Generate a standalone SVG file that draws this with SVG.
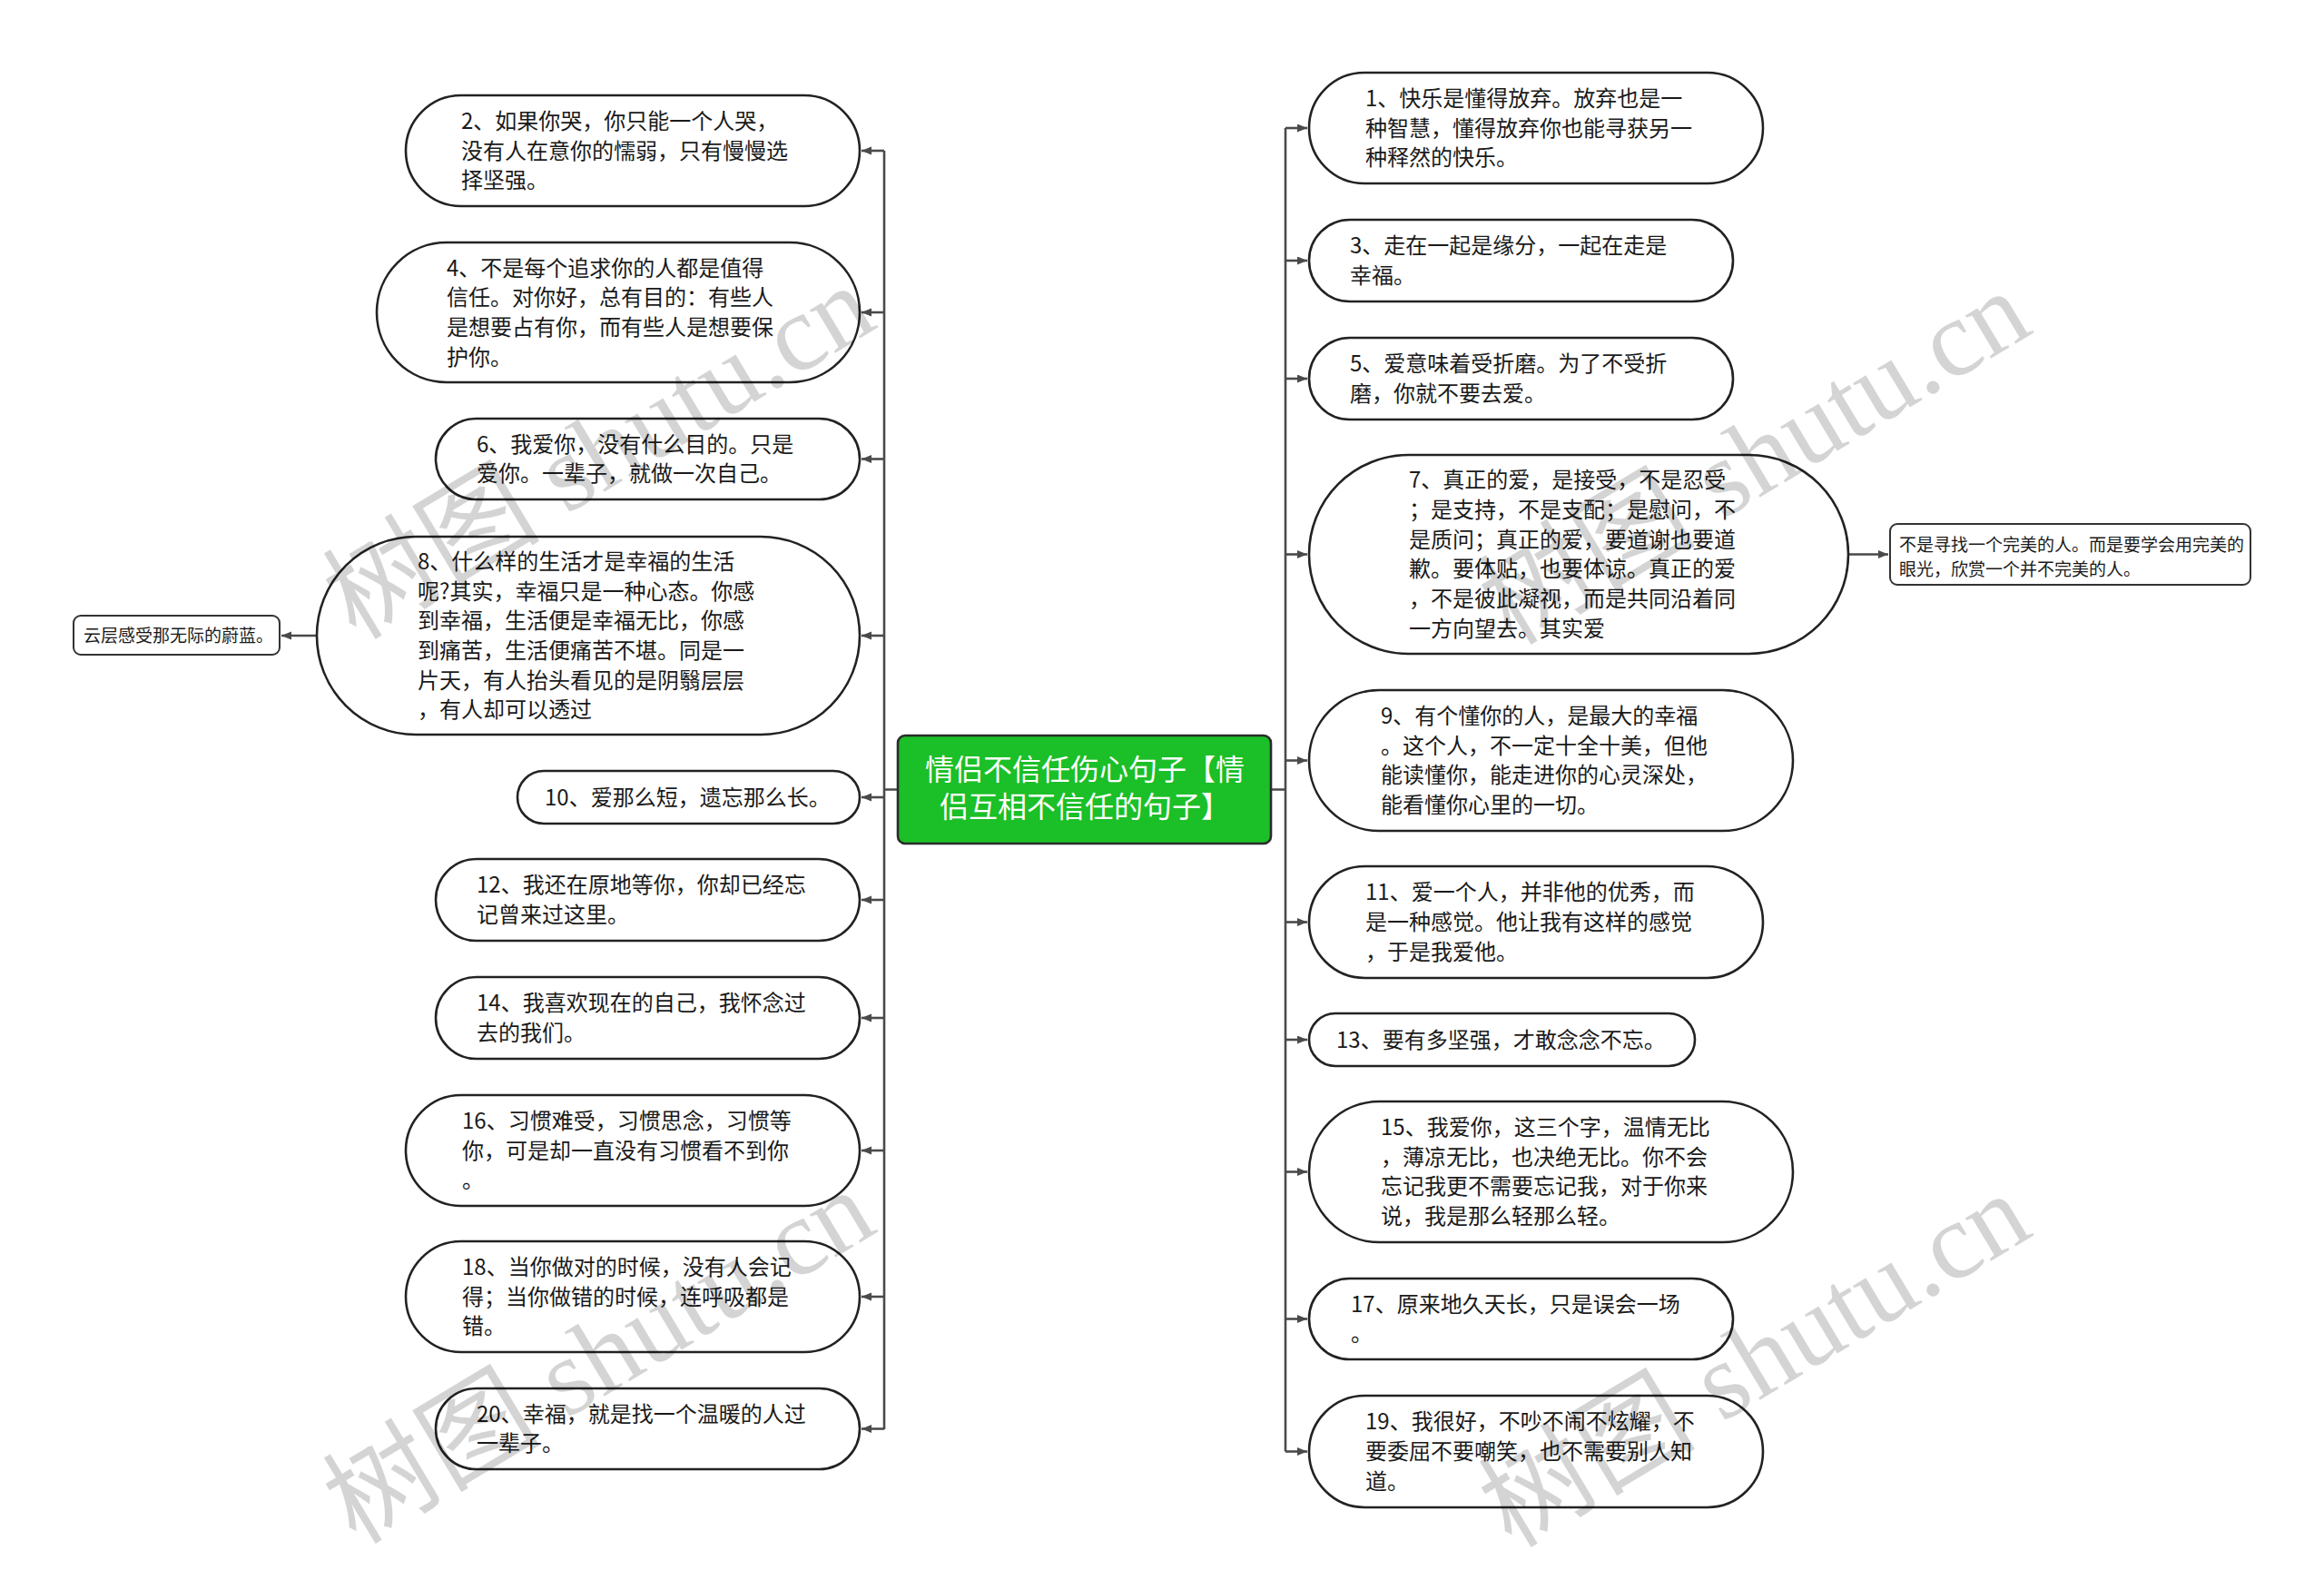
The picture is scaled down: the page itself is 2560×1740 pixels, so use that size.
<svg xmlns="http://www.w3.org/2000/svg" width="2560" height="1740" viewBox="0 0 2560 1740">
<style>
.n{fill:#fff;stroke:#222;stroke-width:2.6}
.c{fill:#fff;stroke:#333;stroke-width:2}
.t{font-family:"Noto Sans CJK SC","Noto Sans",sans-serif;font-size:24px;fill:#1a1a1a}
.ts{font-family:"Noto Sans CJK SC","Noto Sans",sans-serif;font-size:19px;fill:#1a1a1a}
.root{fill:#1bbf27;stroke:#2b2b2b;stroke-width:2.6}
.rt{font-family:"Noto Sans CJK SC","Noto Sans",sans-serif;font-size:32px;fill:#fff;text-anchor:middle}
.l{fill:none;stroke:#4a4a4a;stroke-width:2.6}
.a{fill:none;stroke:#4a4a4a;stroke-width:2.6;marker-end:url(#ah)}
.wm{font-family:"Liberation Serif","Noto Sans CJK SC",serif;font-size:120px;fill:#000;fill-opacity:0.17}
</style>
<defs>
<marker id="ah" markerUnits="userSpaceOnUse" markerWidth="12" markerHeight="10" refX="11" refY="4.5" orient="auto">
<path d="M0,0 L11,4.5 L0,9 Z" fill="#4a4a4a"/>
</marker>
</defs>
<rect width="2560" height="1740" fill="#fff"/>

<g id="connectors">
<path class="l" d="M989,869.5 H974 M974,166 V1574"/>
<path class="a" d="M974,166 H949"/>
<path class="a" d="M974,344 H949"/>
<path class="a" d="M974,505.5 H949"/>
<path class="a" d="M974,700 H949"/>
<path class="a" d="M974,878 H949"/>
<path class="a" d="M974,991 H949"/>
<path class="a" d="M974,1121 H949"/>
<path class="a" d="M974,1267 H949"/>
<path class="a" d="M974,1428 H949"/>
<path class="a" d="M974,1573.5 H949"/>
<path class="a" d="M349,700 H310"/>
<path class="l" d="M1400,869.5 H1416 M1416,141 V1598.5"/>
<path class="a" d="M1416,141 H1440"/>
<path class="a" d="M1416,287 H1440"/>
<path class="a" d="M1416,417 H1440"/>
<path class="a" d="M1416,610.5 H1440"/>
<path class="a" d="M1416,837.5 H1440"/>
<path class="a" d="M1416,1015.5 H1440"/>
<path class="a" d="M1416,1145 H1440"/>
<path class="a" d="M1416,1290.5 H1440"/>
<path class="a" d="M1416,1452.5 H1440"/>
<path class="a" d="M1416,1598.5 H1440"/>
<path class="a" d="M2036,610.5 H2080"/>
</g>

<g id="root">
<rect class="root" x="989" y="810" width="411" height="119" rx="8"/>
<text class="rt"><tspan x="1195" y="858.5">情侣不信任伤心句子【情</tspan><tspan x="1195" y="899.5">侣互相不信任的句子】</tspan></text>
</g>

<g id="n2">
<rect class="n" x="447" y="105" width="500" height="122" rx="61"/>
<text class="t"><tspan x="508" y="141.8">2、如果你哭，你只能一个人哭，</tspan><tspan x="508" y="174.5">没有人在意你的懦弱，只有慢慢选</tspan><tspan x="508" y="207.2">择坚强。</tspan></text>
</g>
<g id="n4">
<rect class="n" x="415" y="267" width="532" height="154" rx="77"/>
<text class="t"><tspan x="492" y="303.5">4、不是每个追求你的人都是值得</tspan><tspan x="492" y="336.2">信任。对你好，总有目的：有些人</tspan><tspan x="492" y="368.8">是想要占有你，而有些人是想要保</tspan><tspan x="492" y="401.5">护你。</tspan></text>
</g>
<g id="n6">
<rect class="n" x="480" y="461" width="467" height="89" rx="44.5"/>
<text class="t"><tspan x="525" y="497.7">6、我爱你，没有什么目的。只是</tspan><tspan x="525" y="530.4">爱你。一辈子，就做一次自己。</tspan></text>
</g>
<g id="n8">
<rect class="n" x="349" y="591" width="598" height="218" rx="109"/>
<text class="t"><tspan x="460" y="626.8">8、什么样的生活才是幸福的生活</tspan><tspan x="460" y="659.5">呢?其实，幸福只是一种心态。你感</tspan><tspan x="460" y="692.1">到幸福，生活便是幸福无比，你感</tspan><tspan x="460" y="724.9">到痛苦，生活便痛苦不堪。同是一</tspan><tspan x="460" y="757.5">片天，有人抬头看见的是阴翳层层</tspan><tspan x="460" y="790.3">，有人却可以透过</tspan></text>
</g>
<g id="n8c">
<rect class="c" x="81" y="678" width="227" height="43" rx="8"/>
<text class="ts" x="92" y="706.7">云层感受那无际的蔚蓝。</text>
</g>
<g id="n10">
<rect class="n" x="570" y="849" width="377" height="58" rx="29"/>
<text class="t" x="600" y="886.5">10、爱那么短，遗忘那么长。</text>
</g>
<g id="n12">
<rect class="n" x="480" y="946" width="467" height="90" rx="45"/>
<text class="t"><tspan x="525" y="983.2">12、我还在原地等你，你却已经忘</tspan><tspan x="525" y="1015.9">记曾来过这里。</tspan></text>
</g>
<g id="n14">
<rect class="n" x="480" y="1076" width="467" height="90" rx="45"/>
<text class="t"><tspan x="525" y="1113.2">14、我喜欢现在的自己，我怀念过</tspan><tspan x="525" y="1145.9">去的我们。</tspan></text>
</g>
<g id="n16">
<rect class="n" x="447" y="1206" width="500" height="122" rx="61"/>
<text class="t"><tspan x="509" y="1242.8">16、习惯难受，习惯思念，习惯等</tspan><tspan x="509" y="1275.5">你，可是却一直没有习惯看不到你</tspan><tspan x="509" y="1308.2">。</tspan></text>
</g>
<g id="n18">
<rect class="n" x="447" y="1367" width="500" height="122" rx="61"/>
<text class="t"><tspan x="509" y="1403.8">18、当你做对的时候，没有人会记</tspan><tspan x="509" y="1436.5">得；当你做错的时候，连呼吸都是</tspan><tspan x="509" y="1469.2">错。</tspan></text>
</g>
<g id="n20">
<rect class="n" x="480" y="1529" width="467" height="89" rx="44.5"/>
<text class="t"><tspan x="525" y="1565.7">20、幸福，就是找一个温暖的人过</tspan><tspan x="525" y="1598.4">一辈子。</tspan></text>
</g>

<g id="n1">
<rect class="n" x="1442" y="80" width="500" height="122" rx="61"/>
<text class="t"><tspan x="1504" y="116.8">1、快乐是懂得放弃。放弃也是一</tspan><tspan x="1504" y="149.5">种智慧，懂得放弃你也能寻获另一</tspan><tspan x="1504" y="182.2">种释然的快乐。</tspan></text>
</g>
<g id="n3">
<rect class="n" x="1442" y="242" width="467" height="90" rx="45"/>
<text class="t"><tspan x="1487" y="279.2">3、走在一起是缘分，一起在走是</tspan><tspan x="1487" y="311.9">幸福。</tspan></text>
</g>
<g id="n5">
<rect class="n" x="1442" y="372" width="467" height="90" rx="45"/>
<text class="t"><tspan x="1487" y="409.2">5、爱意味着受折磨。为了不受折</tspan><tspan x="1487" y="441.9">磨，你就不要去爱。</tspan></text>
</g>
<g id="n7">
<rect class="n" x="1442" y="501" width="594" height="219" rx="109.5"/>
<text class="t"><tspan x="1552" y="537.3">7、真正的爱，是接受，不是忍受</tspan><tspan x="1552" y="570">；是支持，不是支配；是慰问，不</tspan><tspan x="1552" y="602.7">是质问；真正的爱，要道谢也要道</tspan><tspan x="1552" y="635.4">歉。要体贴，也要体谅。真正的爱</tspan><tspan x="1552" y="668.1">，不是彼此凝视，而是共同沿着同</tspan><tspan x="1552" y="700.8">一方向望去。其实爱</tspan></text>
</g>
<g id="n7c">
<rect class="c" x="2082" y="577" width="397" height="67" rx="8"/>
<text class="ts"><tspan x="2092" y="606.8">不是寻找一个完美的人。而是要学会用完美的</tspan><tspan x="2092" y="633.8">眼光，欣赏一个并不完美的人。</tspan></text>
</g>
<g id="n9">
<rect class="n" x="1442" y="760" width="533" height="155" rx="77.5"/>
<text class="t"><tspan x="1521" y="797">9、有个懂你的人，是最大的幸福</tspan><tspan x="1521" y="829.7">。这个人，不一定十全十美，但他</tspan><tspan x="1521" y="862.4">能读懂你，能走进你的心灵深处，</tspan><tspan x="1521" y="895.1">能看懂你心里的一切。</tspan></text>
</g>
<g id="n11">
<rect class="n" x="1442" y="954" width="500" height="123" rx="61.5"/>
<text class="t"><tspan x="1504" y="991.3">11、爱一个人，并非他的优秀，而</tspan><tspan x="1504" y="1024">是一种感觉。他让我有这样的感觉</tspan><tspan x="1504" y="1056.7">，于是我爱他。</tspan></text>
</g>
<g id="n13">
<rect class="n" x="1442" y="1116" width="425" height="58" rx="29"/>
<text class="t" x="1472" y="1153.5">13、要有多坚强，才敢念念不忘。</text>
</g>
<g id="n15">
<rect class="n" x="1442" y="1213" width="533" height="155" rx="77.5"/>
<text class="t"><tspan x="1521" y="1250">15、我爱你，这三个字，温情无比</tspan><tspan x="1521" y="1282.7">，薄凉无比，也决绝无比。你不会</tspan><tspan x="1521" y="1315.4">忘记我更不需要忘记我，对于你来</tspan><tspan x="1521" y="1348.1">说，我是那么轻那么轻。</tspan></text>
</g>
<g id="n17">
<rect class="n" x="1442" y="1408" width="467" height="89" rx="44.5"/>
<text class="t"><tspan x="1488" y="1444.7">17、原来地久天长，只是误会一场</tspan><tspan x="1488" y="1477.4">。</tspan></text>
</g>
<g id="n19">
<rect class="n" x="1442" y="1537" width="500" height="123" rx="61.5"/>
<text class="t"><tspan x="1504" y="1574.3">19、我很好，不吵不闹不炫耀，不</tspan><tspan x="1504" y="1607">要委屈不要嘲笑，也不需要别人知</tspan><tspan x="1504" y="1639.7">道。</tspan></text>
</g>

<g id="watermarks">
<text class="wm" transform="translate(392,706) rotate(-31)">树图 shutu.cn</text>
<text class="wm" transform="translate(1665,712) rotate(-31)">树图 shutu.cn</text>
<text class="wm" transform="translate(392,1702) rotate(-31)">树图 shutu.cn</text>
<text class="wm" transform="translate(1665,1706) rotate(-31)">树图 shutu.cn</text>
</g>
</svg>
